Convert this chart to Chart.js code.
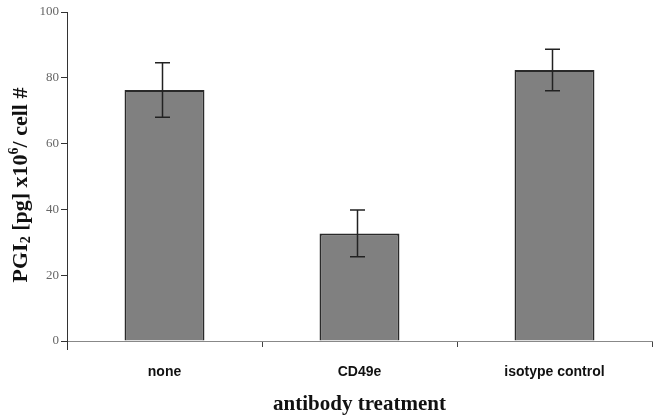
<!DOCTYPE html>
<html>
<head>
<meta charset="utf-8">
<script src="https://cdn.jsdelivr.net/npm/chart.js@4"></script>
<style>
  html, body { margin: 0; padding: 0; background: #fff; }
  #wrap { width: 654px; height: 417px; position: relative; }
</style>
</head>
<body>
<div id="wrap"><canvas id="chart"></canvas></div>
<script>
const categories = ['none', 'CD49e', 'isotype control'];
const means = [76.3, 32.7, 82.4];
const errors = [8.3, 7.1, 6.3];
const yTicks = [0, 20, 40, 60, 80, 100];

// error bars drawn from the same scales as the bars
const errorBars = {
  id: 'errorBars',
  afterDatasetsDraw(chart) {
    const { ctx, scales: { x, y } } = chart;
    ctx.save();
    ctx.strokeStyle = '#222';
    ctx.lineWidth = 1.5;
    means.forEach((m, i) => {
      const cx = x.getPixelForValue(i) - 2;
      const top = y.getPixelForValue(m + errors[i]);
      const bot = y.getPixelForValue(m - errors[i]);
      ctx.beginPath();
      ctx.moveTo(cx, top); ctx.lineTo(cx, bot);
      ctx.moveTo(cx - 7.5, top); ctx.lineTo(cx + 7.5, top);
      ctx.moveTo(cx - 7.5, bot); ctx.lineTo(cx + 7.5, bot);
      ctx.stroke();
    });
    ctx.restore();
  }
};

// y title with subscript / superscript, and the small axis overhang below 0
const yTitle = {
  id: 'yTitle',
  afterDraw(chart) {
    const { ctx, chartArea } = chart;
    ctx.save();
    ctx.strokeStyle = '#333';
    ctx.lineWidth = 1;
    ctx.beginPath();
    ctx.moveTo(chartArea.left + 0.5, chartArea.bottom);
    ctx.lineTo(chartArea.left + 0.5, chartArea.bottom + 9);
    ctx.stroke();

    const parts = [
      { t: 'PGI', f: 'bold 22px "Liberation Serif"', dy: 0 },
      { t: '2', f: 'bold 14px "Liberation Serif"', dy: 5 },
      { t: ' [pg] x10', f: 'bold 22px "Liberation Serif"', dy: 0 },
      { t: '6', f: 'bold 14px "Liberation Serif"', dy: -7 },
      { t: '/ cell #', f: 'bold 22px "Liberation Serif"', dy: 0 }
    ];
    let total = 0;
    parts.forEach(p => { ctx.font = p.f; p.w = ctx.measureText(p.t).width; total += p.w; });
    ctx.translate(21, 185);
    ctx.rotate(-Math.PI / 2);
    ctx.fillStyle = '#111';
    ctx.textBaseline = 'middle';
    let xPos = -total / 2;
    parts.forEach(p => {
      ctx.font = p.f;
      ctx.fillText(p.t, xPos, p.dy);
      xPos += p.w;
    });
    ctx.restore();
  }
};

new Chart(document.getElementById('chart'), {
  type: 'bar',
  data: {
    labels: categories,
    datasets: [{
      data: means,
      backgroundColor: '#808080',
      borderColor: '#2a2a2a',
      borderWidth: 2,
      barPercentage: 0.82,
      categoryPercentage: 0.5
    }]
  },
  options: {
    responsive: true,
    maintainAspectRatio: false,
    animation: false,
    layout: { padding: { top: 12, right: 2, left: 0, bottom: 0 } },
    plugins: { legend: { display: false }, tooltip: { enabled: false } },
    scales: {
      x: {
        offset: true,
        grid: { display: true, drawOnChartArea: false, offset: true, tickLength: 6, color: '#444', tickWidth: 1 },
        border: { color: '#888', width: 1 },
        ticks: { color: '#111', font: { family: 'Liberation Sans', size: 14, weight: 'bold' }, padding: 17 },
        title: {
          display: true,
          text: 'antibody treatment',
          color: '#111',
          font: { family: 'Liberation Serif', size: 21, weight: 'bold' },
          padding: { top: 4, bottom: 0 }
        },
        afterFit(scale) { scale.height = 76; }
      },
      y: {
        min: 0,
        max: 100,
        afterBuildTicks(scale) { scale.ticks = yTicks.map(v => ({ value: v })); },
        grid: { display: true, drawOnChartArea: false, tickLength: 6, color: '#333' },
        border: { color: '#333', width: 1 },
        ticks: { color: '#666', font: { family: 'Liberation Serif', size: 13 }, padding: 2 },
        afterFit(scale) { scale.width = 67; }
      }
    }
  },
  plugins: [errorBars, yTitle]
});
</script>
</body>
</html>
